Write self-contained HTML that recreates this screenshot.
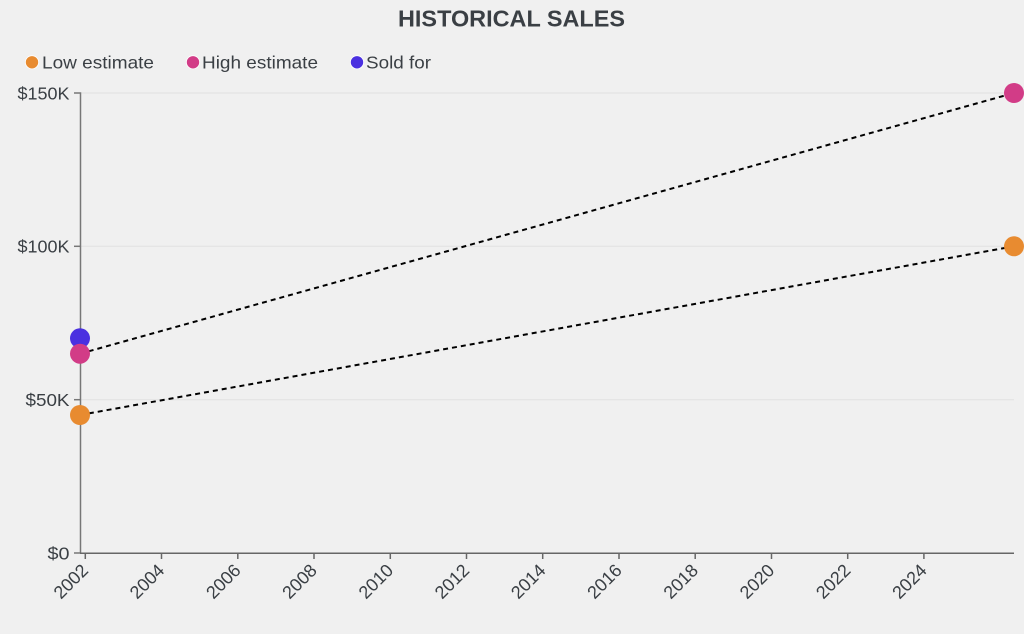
<!DOCTYPE html>
<html>
<head>
<meta charset="utf-8">
<style>
  html,body{margin:0;padding:0;background:#f0f0f0;}
  svg{display:block;}
  text{font-family:"Liberation Sans", sans-serif;}
</style>
</head>
<body>
<svg width="1024" height="634" viewBox="0 0 1024 634" xmlns="http://www.w3.org/2000/svg">
  <rect x="0" y="0" width="1024" height="634" fill="#f0f0f0"/>
  <!-- Title -->
  <text x="511.5" y="26.5" text-anchor="middle" font-size="23" font-weight="bold" fill="#3a3f44" textLength="227" lengthAdjust="spacingAndGlyphs">HISTORICAL SALES</text>

  <!-- Legend -->
  <circle cx="32" cy="62.3" r="6.6" fill="#e88b30" stroke="#ffffff" stroke-width="0.8"/>
  <text x="42" y="68.3" font-size="17.5" fill="#3a3f44" textLength="112" lengthAdjust="spacingAndGlyphs">Low estimate</text>
  <circle cx="193" cy="62.3" r="6.6" fill="#d23c87" stroke="#ffffff" stroke-width="0.8"/>
  <text x="202" y="68.3" font-size="17.5" fill="#3a3f44" textLength="116" lengthAdjust="spacingAndGlyphs">High estimate</text>
  <circle cx="357" cy="62.3" r="6.6" fill="#4a30e0" stroke="#ffffff" stroke-width="0.8"/>
  <text x="366" y="68.3" font-size="17.5" fill="#3a3f44" textLength="65" lengthAdjust="spacingAndGlyphs">Sold for</text>

  <!-- Gridlines -->
  <g stroke="#e1e1e1" stroke-width="1">
    <line x1="80" y1="93" x2="1014" y2="93"/>
    <line x1="80" y1="246.3" x2="1014" y2="246.3"/>
    <line x1="80" y1="399.7" x2="1014" y2="399.7"/>
  </g>

  <!-- Y axis -->
  <g stroke="#777" stroke-width="1.5" fill="none">
    <path d="M74,93H80.5V553H74"/>
    <line x1="74" y1="246.3" x2="80.5" y2="246.3"/>
    <line x1="74" y1="399.7" x2="80.5" y2="399.7"/>
  </g>
  <g font-size="17.5" fill="#3a3f44" text-anchor="end">
    <text x="69.5" y="99.3" textLength="52" lengthAdjust="spacingAndGlyphs">$150K</text>
    <text x="69.5" y="252.6" textLength="52" lengthAdjust="spacingAndGlyphs">$100K</text>
    <text x="69.5" y="406" textLength="44" lengthAdjust="spacingAndGlyphs">$50K</text>
    <text x="69.5" y="559.3" textLength="22" lengthAdjust="spacingAndGlyphs">$0</text>
  </g>

  <!-- X axis -->
  <g stroke="#666" stroke-width="1.5" fill="none">
    <path d="M80,553.3H1014"/>
    <line x1="85.3" y1="553" x2="85.3" y2="559"/>
    <line x1="161.5" y1="553" x2="161.5" y2="559"/>
    <line x1="237.8" y1="553" x2="237.8" y2="559"/>
    <line x1="314" y1="553" x2="314" y2="559"/>
    <line x1="390.3" y1="553" x2="390.3" y2="559"/>
    <line x1="466.5" y1="553" x2="466.5" y2="559"/>
    <line x1="542.7" y1="553" x2="542.7" y2="559"/>
    <line x1="619" y1="553" x2="619" y2="559"/>
    <line x1="695.2" y1="553" x2="695.2" y2="559"/>
    <line x1="771.5" y1="553" x2="771.5" y2="559"/>
    <line x1="847.7" y1="553" x2="847.7" y2="559"/>
    <line x1="923.9" y1="553" x2="923.9" y2="559"/>
  </g>
  <g font-size="18" fill="#3a3f44" text-anchor="end">
    <text x="89.3" y="571.5" transform="rotate(-45 89.3 571.5)">2002</text>
    <text x="165.5" y="571.5" transform="rotate(-45 165.5 571.5)">2004</text>
    <text x="241.8" y="571.5" transform="rotate(-45 241.8 571.5)">2006</text>
    <text x="318" y="571.5" transform="rotate(-45 318 571.5)">2008</text>
    <text x="394.3" y="571.5" transform="rotate(-45 394.3 571.5)">2010</text>
    <text x="470.5" y="571.5" transform="rotate(-45 470.5 571.5)">2012</text>
    <text x="546.7" y="571.5" transform="rotate(-45 546.7 571.5)">2014</text>
    <text x="623" y="571.5" transform="rotate(-45 623 571.5)">2016</text>
    <text x="699.2" y="571.5" transform="rotate(-45 699.2 571.5)">2018</text>
    <text x="775.5" y="571.5" transform="rotate(-45 775.5 571.5)">2020</text>
    <text x="851.7" y="571.5" transform="rotate(-45 851.7 571.5)">2022</text>
    <text x="927.9" y="571.5" transform="rotate(-45 927.9 571.5)">2024</text>
  </g>

  <!-- Dashed trend lines -->
  <g stroke="#000" stroke-width="2" stroke-dasharray="5,4" fill="none">
    <line x1="80" y1="415" x2="1014" y2="246.3"/>
    <line x1="80" y1="353.7" x2="1014" y2="93"/>
  </g>

  <!-- Points -->
  <circle cx="80" cy="338.3" r="10" fill="#4a30e0"/>
  <circle cx="80" cy="353.7" r="10" fill="#d23c87"/>
  <circle cx="80" cy="415" r="10" fill="#e88b30"/>
  <circle cx="1014" cy="93" r="10" fill="#d23c87"/>
  <circle cx="1014" cy="246.3" r="10" fill="#e88b30"/>
</svg>
</body>
</html>
